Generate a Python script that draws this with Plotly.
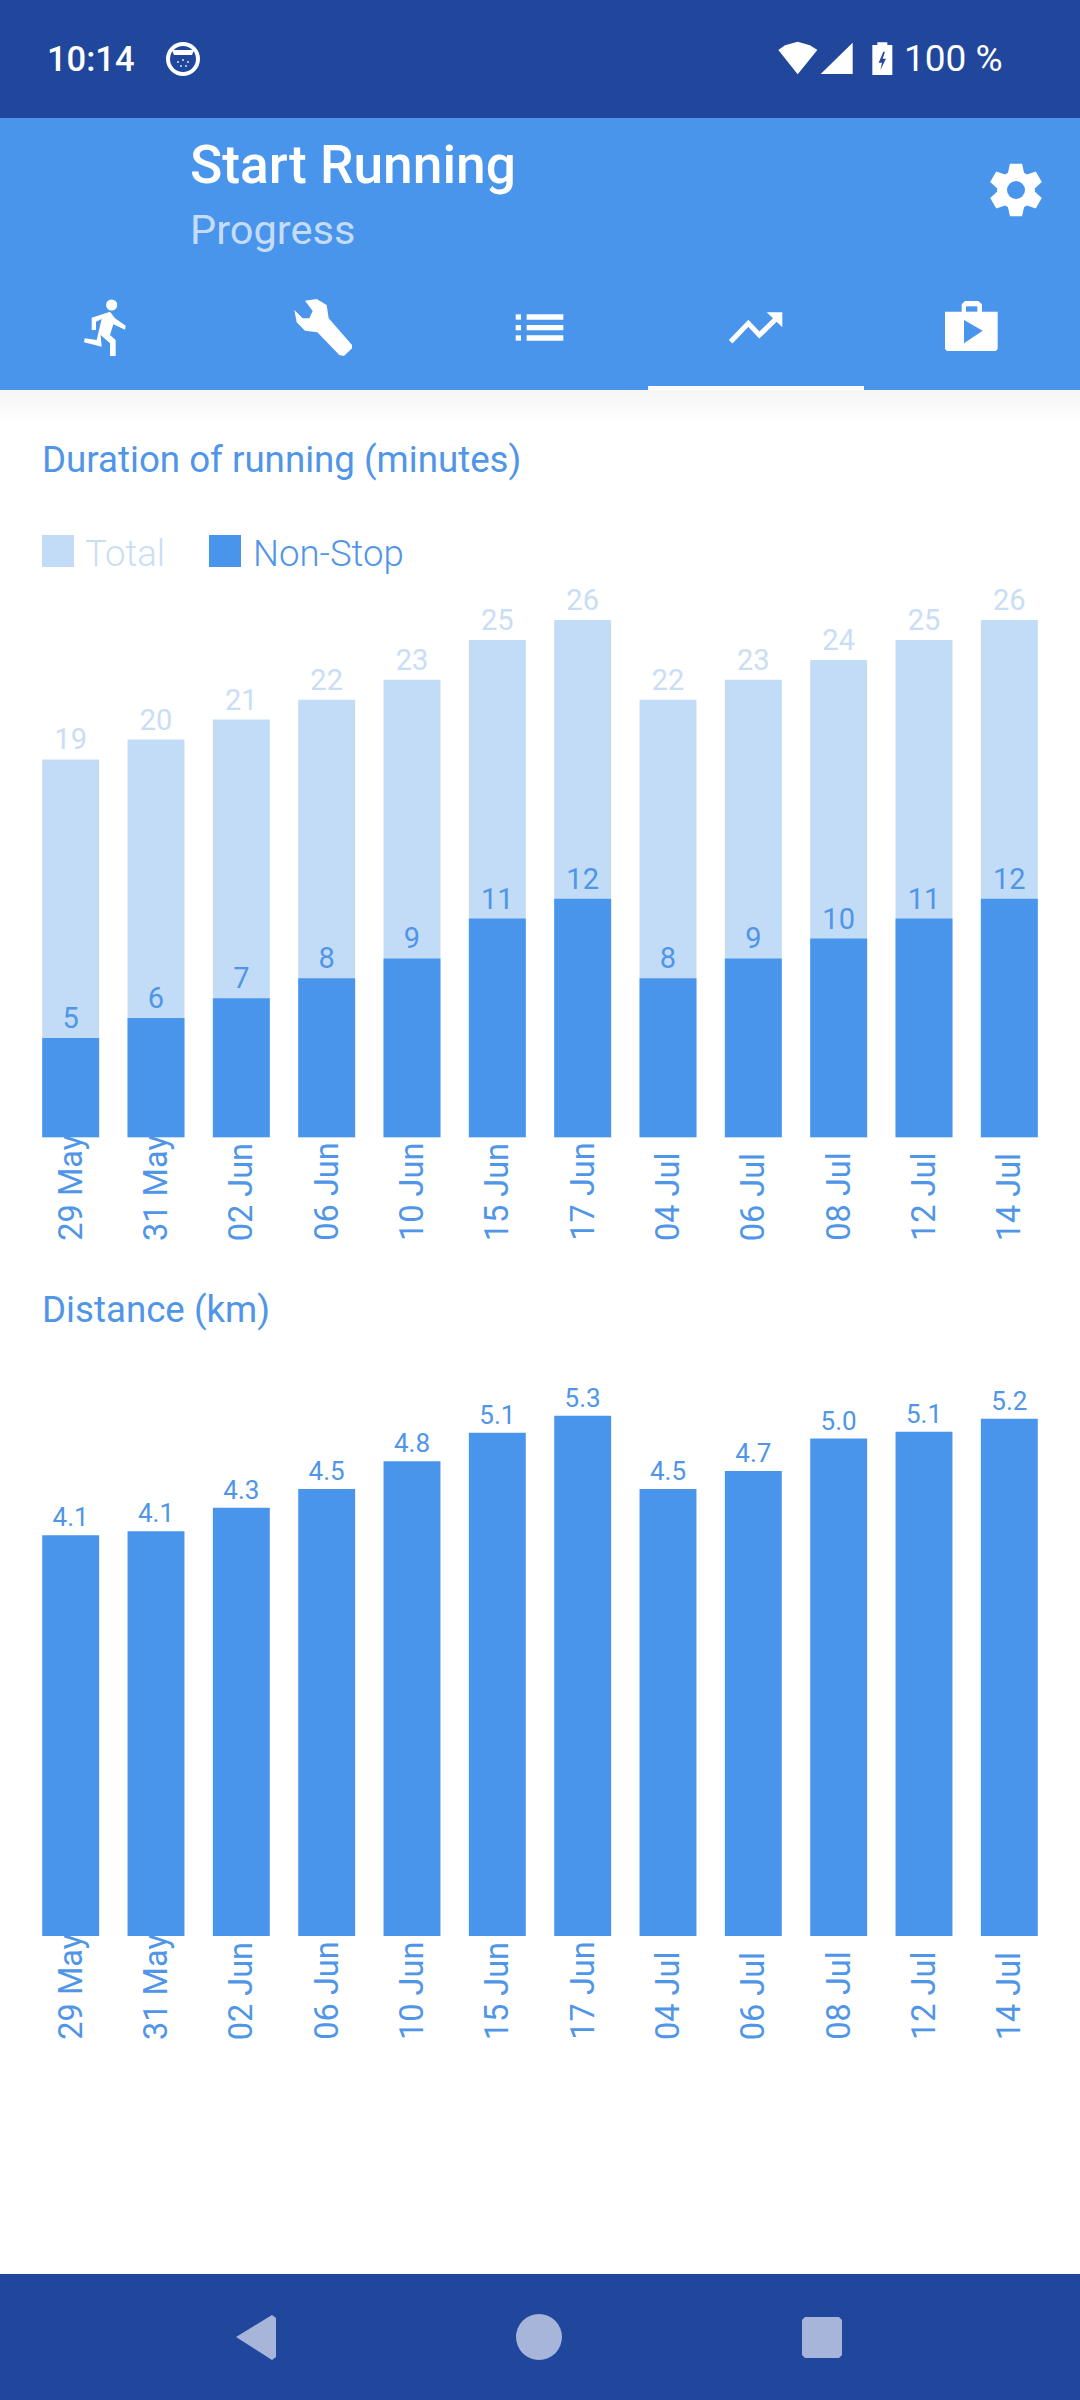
import math
import plotly.graph_objects as go

# ---------- data ----------
dates = ["29 May", "31 May", "02 Jun", "06 Jun", "10 Jun", "15 Jun",
         "17 Jun", "04 Jul", "06 Jul", "08 Jul", "12 Jul", "14 Jul"]
total_minutes = [19, 20, 21, 22, 23, 25, 26, 22, 23, 24, 25, 26]
nonstop_minutes = [5, 6, 7, 8, 9, 11, 12, 8, 9, 10, 11, 12]
distance_km = [4.06, 4.10, 4.34, 4.53, 4.81, 5.10, 5.27, 4.53, 4.71, 5.04, 5.11, 5.24]

# ---------- style ----------
NAVY = "#20479C"
BLUE = "#4A95EC"
LIGHT = "#C2DCF7"
TEXT_BLUE = "#4F95E8"
LABEL_LIGHT = "#C9DEF5"
NAV_ICON = "#A6B5D9"
FONT = "Roboto"
W, H = 1080, 2400


def px(x):
    return x / W


def py(y):
    return 1 - y / H


shapes = []
annotations = []


def rect(x0, y0, x1, y1, color):
    shapes.append(dict(type="rect", xref="paper", yref="paper", x0=px(x0), x1=px(x1),
                       y0=py(y0), y1=py(y1), fillcolor=color, line=dict(width=0), layer="below"))


def circle(cx, cy, r, color, rx=None):
    rx = r if rx is None else rx
    shapes.append(dict(type="circle", xref="paper", yref="paper", x0=px(cx - rx), x1=px(cx + rx),
                       y0=py(cy + r), y1=py(cy - r), fillcolor=color, line=dict(width=0)))


def poly(points, color):
    path = "M" + " L".join(f"{px(x):.5f},{py(y):.5f}" for x, y in points) + " Z"
    shapes.append(dict(type="path", xref="paper", yref="paper", path=path,
                       fillcolor=color, line=dict(width=0)))


def stroke(points, color, width):
    path = "M" + " L".join(f"{px(x):.5f},{py(y):.5f}" for x, y in points)
    shapes.append(dict(type="path", xref="paper", yref="paper", path=path,
                       line=dict(color=color, width=width)))


def zoomed(points, ox, oy):
    return [(ox + x / 3, oy + y / 3) for x, y in points]


def label(x, y, text, size, color, weight=400, anchor="left"):
    annotations.append(dict(xref="paper", yref="paper", x=px(x), y=py(y), text=text,
                            showarrow=False, xanchor=anchor, yanchor="middle", borderpad=0,
                            font=dict(family=FONT, size=size, color=color, weight=weight)))


# ---------- app chrome ----------
rect(0, 0, W, 118, NAVY)
rect(0, 118, W, 390, BLUE)
rect(648, 386, 864, 390, "#FFFFFF")
for i in range(1, 11):
    rect(0, 390, W, 390 + i * 3.2, "rgba(0,0,0,0.004)")
rect(0, 2274, W, H, NAVY)

label(46, 59, "10:14", 34.5, "#FFFFFF", 500)
label(903, 59, "100 %", 37, "#FFFFFF", 400)
label(189, 165, "Start Running", 53.3, "#FFFFFF", 500)
label(189, 230, "Progress", 41.5, "#C4DCF8")
label(41, 460, "Duration of running (minutes)", 36.7, TEXT_BLUE)
label(41, 1310, "Distance (km)", 36.7, TEXT_BLUE)

# legend
rect(42, 535, 74, 567, LIGHT)
label(84, 553, "Total", 36.5, LABEL_LIGHT, 300)
rect(209, 535, 241, 567, BLUE)
label(252, 553, "Non-Stop", 36.5, TEXT_BLUE, 300)

# status bar icons
circle(183, 59, 17, "#FFFFFF")
circle(183, 59, 13, NAVY)
poly([(172, 50), (194, 50), (192, 55), (174, 55)], "#FFFFFF")
for dx, dy in [(-5, 3), (0, 1), (5, 3), (-2, 7), (3, 7)]:
    circle(183 + dx, 59 + dy, 1, "#D7DEEE")
oxs, oys = 760, 20
wifi = [(55, 90), (75, 76), (113, 65), (150, 76), (172, 90), (113, 163)]
poly(zoomed(wifi, oxs, oys), "#FFFFFF")
poly(zoomed([(182, 162), (278, 68), (278, 162)], oxs, oys), "#FFFFFF")
poly(zoomed([(337, 75), (352, 75), (352, 67), (382, 67), (382, 75), (397, 75),
             (397, 165), (337, 165)], oxs, oys), "#FFFFFF")
poly(zoomed([(370, 95), (356, 128), (366, 128), (361, 150), (378, 116), (368, 116), (375, 95)],
            oxs, oys), NAVY)

# settings gear
gcx, gcy = 1016, 190
gear_pts = []
for k in range(6):
    base = math.radians(k * 60 - 90)
    for off, rad in [(-25, 19), (-13, 27), (13, 27), (25, 19)]:
        a = base + math.radians(off)
        gear_pts.append((gcx + rad * math.cos(a), gcy + rad * math.sin(a)))
poly(gear_pts, "#FFFFFF")
circle(gcx, gcy, 9, BLUE)

# tab icons
ox, oy = 60, 285
circle(ox + 155 / 3, oy + 60 / 3, 5.6, "#FFFFFF")
poly(zoomed([(95, 98), (150, 80), (165, 100), (197, 122), (195, 134), (160, 118), (150, 150),
             (167, 165), (167, 213), (150, 213), (150, 175), (122, 150), (125, 185), (72, 172),
             (74, 160), (110, 165), (125, 102), (108, 110), (108, 135), (95, 135)], ox, oy), "#FFFFFF")
poly(zoomed([(735, 47), (770, 42), (800, 60), (806, 100), (876, 180), (876, 190), (852, 213),
             (838, 210), (772, 142), (735, 137), (710, 112), (703, 75), (728, 100), (748, 100),
             (758, 78)], ox, oy), "#FFFFFF")
ox2 = 500
for y0, y1 in [(88, 104), (120, 136), (151, 167)]:
    poly(zoomed([(47, y0), (63, y0), (63, y1), (47, y1)], ox2, oy), "#FFFFFF")
    poly(zoomed([(80, y0), (190, y0), (190, y1), (80, y1)], ox2, oy), "#FFFFFF")
stroke(zoomed([(692, 170), (745, 115), (778, 150), (832, 98)], ox2, oy), "#FFFFFF", 5)
poly(zoomed([(800, 82), (847, 82), (847, 127)], ox2, oy), "#FFFFFF")
poly(zoomed([(1335, 80), (1385, 80), (1385, 58), (1395, 48), (1435, 48), (1446, 58), (1446, 80),
             (1493, 80), (1493, 192), (1487, 198), (1341, 198), (1335, 192)], ox2, oy), "#FFFFFF")
poly(zoomed([(1398, 64), (1432, 64), (1432, 80), (1398, 80)], ox2, oy), BLUE)
poly(zoomed([(1392, 105), (1448, 137), (1392, 175)], ox2, oy), BLUE)

# navigation bar icons
poly([(236, 2337), (272, 2315), (276, 2318), (276, 2357), (272, 2360)], NAV_ICON)
circle(539, 2337, 23, NAV_ICON)
poly([(805, 2317), (839, 2317), (842, 2320), (842, 2355), (839, 2358), (805, 2358), (802, 2355), (802, 2320)], NAV_ICON)

# ---------- charts ----------
common = dict(marker_line_width=0, textposition="outside", cliponaxis=False,
              textangle=0, hoverinfo="skip", showlegend=False, constraintext="none")

fig = go.Figure()
fig.add_trace(go.Bar(x=dates, y=total_minutes, text=[str(v) for v in total_minutes],
                     marker_color=LIGHT, textfont=dict(family=FONT, size=29, color=LABEL_LIGHT),
                     xaxis="x", yaxis="y", name="Total", **common))
fig.add_trace(go.Bar(x=dates, y=nonstop_minutes, text=[str(v) for v in nonstop_minutes],
                     marker_color=BLUE, textfont=dict(family=FONT, size=29, color=TEXT_BLUE),
                     xaxis="x", yaxis="y", name="Non-Stop", **common))
fig.add_trace(go.Bar(x=dates, y=distance_km, text=[f"{v:.1f}" for v in distance_km],
                     marker_color=BLUE, textfont=dict(family=FONT, size=26, color=TEXT_BLUE),
                     xaxis="x2", yaxis="y2", name="Distance", **common))

for ref, bottom in [("x", 1242), ("x2", 2041)]:
    for d in dates:
        annotations.append(dict(xref=ref, yref="paper", x=d, y=py(bottom), text=d, textangle=-90,
                                showarrow=False, xanchor="center", yanchor="bottom", borderpad=0,
                                font=dict(family=FONT, size=32.5, color=TEXT_BLUE)))

hidden = dict(showgrid=False, zeroline=False, showticklabels=False, ticks="", showline=False)
xdom = [px(28), px(1052)]
fig.update_layout(
    width=W, height=H, autosize=False, margin=dict(l=0, r=0, t=0, b=0),
    paper_bgcolor="#FFFFFF", plot_bgcolor="rgba(0,0,0,0)",
    barmode="overlay", bargap=0.333, showlegend=False,
    font=dict(family=FONT),
    xaxis=dict(domain=xdom, type="category", categoryorder="array", categoryarray=dates, **hidden),
    yaxis=dict(domain=[py(1137.5), py(580)], range=[0, 557.5 / 19.9], **hidden),
    xaxis2=dict(domain=xdom, type="category", categoryorder="array", categoryarray=dates,
                anchor="y2", **hidden),
    yaxis2=dict(domain=[py(1936), py(1393)], range=[0, 543 / 98.7], anchor="x2", **hidden),
    shapes=shapes, annotations=annotations,
)

fig.write_html("out.html", config=dict(displayModeBar=False),
               post_script="document.body.style.margin='0';document.documentElement.style.background='#fff';")
